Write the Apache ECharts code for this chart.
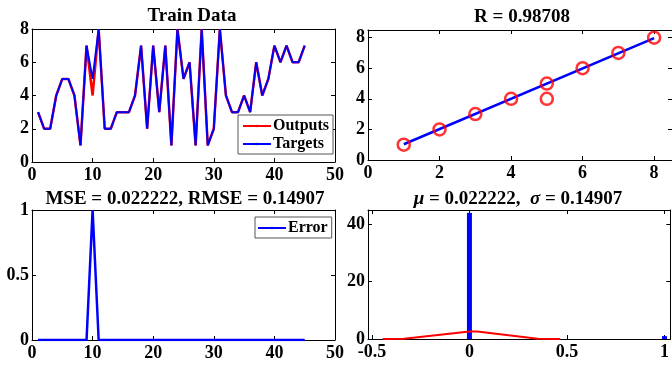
<!DOCTYPE html>
<html>
<head>
<meta charset="utf-8">
<script src="https://cdn.jsdelivr.net/npm/echarts@6/dist/echarts.min.js"></script>
<style>html,body{margin:0;padding:0;background:#fff}#c{width:672px;height:365px}</style>
</head>
<body>
<div id="c"></div>
<script>
// ---- data ----
const sampleIdx = [1,2,3,4,5,6,7,8,9,10,11,12,13,14,15,16,17,18,19,20,21,22,23,24,25,26,27,28,29,30,31,32,33,34,35,36,37,38,39,40,41,42,43,44,45];
const targets = [3,2,2,4,5,5,4,1,7,5,8,2,2,3,3,3,4,7,2,7,3,7,1,8,5,6,1,8,1,2,8,4,3,3,4,3,6,4,5,7,6,7,6,6,7];
const outputs = [3,2,2,4,5,5,4,1,7,4,8,2,2,3,3,3,4,7,2,7,3,7,1,8,5,6,1,8,1,2,8,4,3,3,4,3,6,4,5,7,6,7,6,6,7];
const errors  = [0,0,0,0,0,0,0,0,0,1,0,0,0,0,0,0,0,0,0,0,0,0,0,0,0,0,0,0,0,0,0,0,0,0,0,0,0,0,0,0,0,0,0,0,0];
const regTargets = [1,2,3,4,5,5,6,7,8];
const regOutputs = [1,2,3,4,5,4,6,7,8];
const fitLineX = [1,8];
const fitLineY = [1.03,7.97];
const histCenters = [0,1];
const histCounts = [44,1];
const pdfX = [-0.445,-0.335,0.0,0.04,0.35,0.465];
const pdfY = [0,0.05,2.65,2.65,0.05,0];
const trainTicksX = [0,10,20,30,40,50];
const trainTicksY = [0,2,4,6,8];
const regTicks = [0,2,4,6,8];
const errTicksY = [0,0.5,1];
const histTicksX = [-0.5,0,0.5,1];
const histTicksY = [0,20,40];
const titles = ['Train Data','R = 0.98708','MSE = 0.022222, RMSE = 0.14907'];

const FONT = 'Liberation Serif';
const RED = '#ff0000', BLUE = '#0000ff';
const zip = (a,b) => a.map((v,i)=>[v,b[i]]);

const lbl = {fontFamily: FONT, fontWeight: 'bold', fontSize: 18, color: '#000'};
function xMain(gi, min, max, ticks) {
  return {type:'value', gridIndex: gi, min, max, position:'bottom',
    axisLine:{show:true, onZero:false, lineStyle:{color:'#000', width:1}},
    axisTick:{show:true, inside:true, length:4, customValues: ticks, lineStyle:{color:'#000'}},
    axisLabel:{show:true, customValues: ticks, margin:4, formatter: v=>String(v), ...lbl},
    splitLine:{show:false}};
}
function yMain(gi, min, max, ticks) {
  return {type:'value', gridIndex: gi, min, max, position:'left',
    axisLine:{show:true, onZero:false, lineStyle:{color:'#000', width:1}},
    axisTick:{show:true, inside:true, length:4, customValues: ticks, lineStyle:{color:'#000'}},
    axisLabel:{show:true, customValues: ticks, margin:3, formatter: v=>String(v), ...lbl},
    splitLine:{show:false}};
}
function xMirror(gi, min, max, ticks) {
  return {type:'value', gridIndex: gi, min, max, position:'top',
    axisLine:{show:true, onZero:false, lineStyle:{color:'#000', width:1}},
    axisTick:{show:true, inside:true, length:4, customValues: ticks, lineStyle:{color:'#000'}},
    axisLabel:{show:false}, splitLine:{show:false}};
}
function yMirror(gi, min, max, ticks) {
  return {type:'value', gridIndex: gi, min, max, position:'right',
    axisLine:{show:true, onZero:false, lineStyle:{color:'#000', width:1}},
    axisTick:{show:true, inside:true, length:4, customValues: ticks, lineStyle:{color:'#000'}},
    axisLabel:{show:false}, splitLine:{show:false}};
}

const chart = echarts.init(document.getElementById('c'), null, {renderer:'canvas'});
const titleStyle = {fontFamily: FONT, fontWeight:'bold', fontSize: 19, color:'#000'};
chart.setOption({
  animation: false,
  backgroundColor: '#fff',
  title: [
    {text: titles[0], left: 192, top: 7, textAlign:'center', padding:0, textStyle: titleStyle},
    {text: titles[1], left: 522, top: 8, textAlign:'center', padding:0, textStyle: titleStyle},
    {text: titles[2], left: 185, top: 190, textAlign:'center', padding:0, textStyle: titleStyle},
    {text: '{g|μ} = 0.022222,  {g|σ} = 0.14907', left: 518, top: 190, textAlign:'center', padding:0,
      textStyle: {...titleStyle, rich:{g:{fontFamily: FONT, fontStyle:'italic', fontWeight:'bold', fontSize:19, color:'#000'}}}}
  ],
  grid: [
    {left: 32, top: 29, width: 303, height: 133},
    {left: 368, top: 30, width: 305, height: 130},
    {left: 32, top: 210, width: 303, height: 130},
    {left: 368, top: 210, width: 309, height: 129}
  ],
  legend: [
    {data:['Outputs','Targets'], left: 238, top: 115, orient:'vertical', padding:[3,4,2,4], itemGap: 2,
      itemWidth: 28, itemHeight: 3, backgroundColor:'#fff', borderColor:'#555', borderWidth:1, borderRadius:0,
      textStyle:{fontFamily: FONT, fontWeight:'bold', fontSize:16, color:'#000', padding:[0,0,0,-3]}},
    {data:['Error'], left: 255, top: 217, orient:'vertical', padding:[3,4,2,2], itemWidth: 28, itemHeight: 3,
      backgroundColor:'#fff', borderColor:'#555', borderWidth:1, borderRadius:0,
      textStyle:{fontFamily: FONT, fontWeight:'bold', fontSize:16, color:'#000', padding:[0,0,0,-3]}}
  ],
  xAxis: [
    xMain(0, 0, 50, trainTicksX), xMirror(0, 0, 50, trainTicksX),
    xMain(1, 0, 8.5, regTicks), xMirror(1, 0, 8.5, regTicks),
    xMain(2, 0, 50, trainTicksX), xMirror(2, 0, 50, trainTicksX),
    xMain(3, -0.52, 1.03, histTicksX), xMirror(3, -0.52, 1.03, histTicksX)
  ],
  yAxis: [
    yMain(0, 0, 8, trainTicksY), yMirror(0, 0, 8, trainTicksY),
    yMain(1, 0, 8.5, regTicks), yMirror(1, 0, 8.5, regTicks),
    yMain(2, 0, 1, errTicksY), yMirror(2, 0, 1, errTicksY),
    yMain(3, 0, 45, histTicksY), yMirror(3, 0, 45, histTicksY)
  ],
  series: [
    {name:'Outputs', type:'line', xAxisIndex:0, yAxisIndex:0, data: zip(sampleIdx, outputs), symbol:'none',
      lineStyle:{color:RED, width:2.5}, itemStyle:{color:RED}},
    {name:'Targets', type:'line', xAxisIndex:0, yAxisIndex:0, data: zip(sampleIdx, targets), symbol:'none',
      lineStyle:{color:BLUE, width:2}, itemStyle:{color:BLUE}},
    {name:'Fit', type:'line', xAxisIndex:2, yAxisIndex:2, data: zip(fitLineX, fitLineY), symbol:'none',
      lineStyle:{color:BLUE, width:2.5}, z:2},
    {name:'Data', type:'scatter', xAxisIndex:2, yAxisIndex:2, data: zip(regTargets, regOutputs), symbol:'circle',
      symbolSize: 12, itemStyle:{color:'rgba(0,0,0,0)', borderColor:RED, borderWidth:2.5}, z:3},
    {name:'Error', type:'line', xAxisIndex:4, yAxisIndex:4, data: zip(sampleIdx, errors), symbol:'none',
      lineStyle:{color:BLUE, width:2.5}, itemStyle:{color:BLUE}},
    {name:'Hist', type:'bar', xAxisIndex:6, yAxisIndex:6, data: zip(histCenters, histCounts), barWidth: 5,
      itemStyle:{color:BLUE}},
    {name:'Pdf', type:'line', xAxisIndex:6, yAxisIndex:6, data: zip(pdfX, pdfY), symbol:'none',
      lineStyle:{color:RED, width:2}, z:3}
  ]
});
</script>
</body>
</html>
